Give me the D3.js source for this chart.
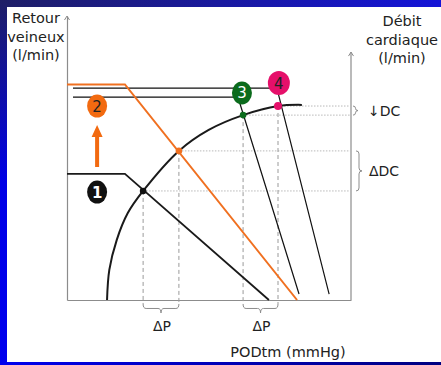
<!DOCTYPE html>
<html><head><meta charset="utf-8">
<script src="https://cdn.jsdelivr.net/npm/d3@7"></script>
<style>html,body{margin:0;padding:0;overflow:hidden;background:#fff}</style>
</head><body>
<svg id="chart" width="441" height="365"></svg>
<script>
// Guyton diagram: venous return curves against the cardiac function curve.
// Both axes use arbitrary units 0–100 (no ticks on the original diagram).
const cardiacCurve = [[14.1,0],[14.9,10.6],[17.5,21.1],[21.4,30.6],[26.8,38.4],[39.4,52.5],[49.9,59.9],[62.0,65.1],[74.3,68.3],[82.7,68.7]];
const venousReturn1 = [[0,44.4],[20.4,44.4],[71.1,0]];
const venousReturn2 = [[0,75.9],[20.4,75.9],[81.0,0]];
const venousReturn3 = [[2.1,71.4],[60.2,71.4],[81.7,2.1]];
const venousReturn4 = [[2.1,74.6],[73.9,74.6],[92.3,2.1]];
// equilibrium points (intersections with the cardiac function curve)
const equilibriumX = [26.8, 39.4, 62.0, 74.3];
const equilibriumY = [38.4, 52.5, 65.1, 68.3];
const equilibriumColors = ["#111111", "#f07020", "#0b6b1c", "#e5106a"];
// numbered badges
const badgeLabels = ["1", "2", "3", "4"];
const badgeX = [10.6, 10.6, 61.6, 74.6];
const badgeY = [38.0, 68.3, 72.9, 76.4];
const badgeFill = ["#111111", "#f26a10", "#0b6b1c", "#e5106a"];
const badgeText = ["#ffffff", "#222222", "#ffffff", "#222222"];
// upward shift arrow (from, to) in y units
const shiftArrow = {x: 10.6, from: 46.8, to: 61.6};
const yTitle = ["Retour", "veineux", "(l/min)"];
const yRightTitle = ["Débit", "cardiaque", "(l/min)"];
const xTitle = "PODtm (mmHg)";
const deltaP = "\u0394P";
const dcLabels = ["\u2193DC", "\u0394DC"];

const svg = d3.select("#chart");
const W = 441, H = 365;

// frame: blue gradient border around a white panel
const defs = svg.append("defs");
const gTop = defs.append("linearGradient").attr("id","gTop").attr("x1","0").attr("x2","1").attr("y1","0").attr("y2","0");
gTop.append("stop").attr("offset","0").attr("stop-color","#1e1e66");
gTop.append("stop").attr("offset","1").attr("stop-color","#1414d8");
const gLeft = defs.append("linearGradient").attr("id","gLeft").attr("x1","0").attr("x2","0").attr("y1","0").attr("y2","1");
gLeft.append("stop").attr("offset","0").attr("stop-color","#1e1e66");
gLeft.append("stop").attr("offset","0.5").attr("stop-color","#0000e6");
gLeft.append("stop").attr("offset","1").attr("stop-color","#0000ee");
const gBot = defs.append("linearGradient").attr("id","gBot").attr("x1","0").attr("x2","1").attr("y1","0").attr("y2","0");
gBot.append("stop").attr("offset","0").attr("stop-color","#0000ee");
gBot.append("stop").attr("offset","1").attr("stop-color","#000080");

svg.append("rect").attr("x",0).attr("y",0).attr("width",W).attr("height",H).attr("fill","#ffffff");
svg.append("rect").attr("x",0).attr("y",0).attr("width",W).attr("height",7).attr("fill","url(#gTop)");
svg.append("rect").attr("x",0).attr("y",0).attr("width",7).attr("height",H).attr("fill","url(#gLeft)");
svg.append("rect").attr("x",0).attr("y",362).attr("width",W).attr("height",3).attr("fill","url(#gBot)");

const x = d3.scaleLinear().domain([0,100]).range([67,351]);
const y = d3.scaleLinear().domain([0,100]).range([300,16]);

const font = "'DejaVu Sans', Verdana, sans-serif";
const axisColor = "#8c8c8c";

// axes
const xAxis = d3.axisBottom(x).tickValues([]).tickSizeOuter(0);
svg.append("g").attr("transform",`translate(0,${y(0)})`).call(xAxis)
  .select(".domain").attr("stroke",axisColor).attr("stroke-width",1.2);
const yAxis = d3.axisLeft(y).tickValues([]).tickSizeOuter(0);
svg.append("g").attr("transform",`translate(${x(0)},0)`).call(yAxis)
  .select(".domain").attr("stroke",axisColor).attr("stroke-width",1.2);
// right axis (cardiac output)
svg.append("line").attr("x1",x(100)).attr("x2",x(100)).attr("y1",y(0)).attr("y2",y(87.3))
  .attr("stroke",axisColor).attr("stroke-width",1.2);
function arrowHead(px, py){
  svg.append("path").attr("d",`M${px-2.5},${py+4}L${px},${py}L${px+2.5},${py+4}`)
    .attr("fill","none").attr("stroke",axisColor).attr("stroke-width",1);
}
arrowHead(x(0), y(100));
arrowHead(x(100), y(87.3));

// guide lines
const pts = equilibriumX.map((v,i)=>({x:v, y:equilibriumY[i], c:equilibriumColors[i]}));
svg.append("g").selectAll("line").data(pts).join("line")
  .attr("x1",d=>x(d.x)).attr("x2",x(100)).attr("y1",d=>y(d.y)).attr("y2",d=>y(d.y))
  .attr("stroke","#b8b8b8").attr("stroke-width",1).attr("stroke-dasharray","1.5,1.5");
svg.append("g").selectAll("line").data(pts).join("line")
  .attr("x1",d=>x(d.x)).attr("x2",d=>x(d.x)).attr("y1",d=>y(d.y)).attr("y2",y(-1.4))
  .attr("stroke","#9a9a9a").attr("stroke-width",1).attr("stroke-dasharray","4,3");

const line = d3.line().x(d=>x(d[0])).y(d=>y(d[1]));
svg.append("path").attr("d",line(venousReturn4)).attr("fill","none").attr("stroke","#111").attr("stroke-width",1.2);
svg.append("path").attr("d",line(venousReturn3)).attr("fill","none").attr("stroke","#111").attr("stroke-width",1.2);
svg.append("path").attr("d",line(venousReturn1)).attr("fill","none").attr("stroke","#1a1a1a").attr("stroke-width",1.8);
svg.append("path").attr("d",line(venousReturn2)).attr("fill","none").attr("stroke","#f07020").attr("stroke-width",2);
svg.append("path").attr("d",d3.line().x(d=>x(d[0])).y(d=>y(d[1])).curve(d3.curveCatmullRom.alpha(0.5))(cardiacCurve))
  .attr("fill","none").attr("stroke","#1a1a1a").attr("stroke-width",2);

// equilibrium dots
svg.append("g").selectAll("circle").data(pts).join("circle")
  .attr("cx",d=>x(d.x)).attr("cy",d=>y(d.y)).attr("r",(d,i)=>i===3?4:3.3).attr("fill",d=>d.c);

// braces
const braceColor = "#8c8c8c";
function braceV(x0, ya, yb, w){
  const xm = x0 + w*0.5, ym = (ya+yb)/2, r = Math.min(3,(yb-ya)/4);
  return `M${x0},${ya}Q${xm},${ya} ${xm},${ya+r}L${xm},${ym-r}Q${xm},${ym} ${x0+w},${ym}Q${xm},${ym} ${xm},${ym+r}L${xm},${yb-r}Q${xm},${yb} ${x0},${yb}`;
}
function braceH(xa, xb, y0, h){
  const ym = y0 + h*0.5, xm = (xa+xb)/2, r = 3;
  return `M${xa},${y0}Q${xa},${ym} ${xa+r},${ym}L${xm-r},${ym}Q${xm},${ym} ${xm},${y0+h}Q${xm},${ym} ${xm+r},${ym}L${xb-r},${ym}Q${xb},${ym} ${xb},${y0}`;
}
const braceG = svg.append("g").attr("fill","none").attr("stroke",braceColor).attr("stroke-width",1);
braceG.append("path").attr("d",braceV(x(100)+2, y(equilibriumY[3]), y(equilibriumY[2]), 5));
braceG.append("path").attr("d",braceV(x(100)+5, y(equilibriumY[1]), y(equilibriumY[0]), 6));
braceG.append("path").attr("d",braceH(x(equilibriumX[0]), x(equilibriumX[1]), y(-1.4), 9));
braceG.append("path").attr("d",braceH(x(equilibriumX[2]), x(equilibriumX[3]), y(-1.4), 9));

// ΔP labels
[[0,1],[2,3]].forEach(([a,b])=>{
  svg.append("text").attr("x",(x(equilibriumX[a])+x(equilibriumX[b]))/2+1).attr("y",331)
    .attr("text-anchor","middle").attr("font-family",font).attr("font-size",14).attr("fill","#222").text(deltaP);
});
// DC labels
svg.append("text").attr("x",368).attr("y",(y(equilibriumY[3])+y(equilibriumY[2]))/2+5)
  .attr("font-family",font).attr("font-size",14).attr("fill","#222").text(dcLabels[0]);
svg.append("text").attr("x",369).attr("y",(y(equilibriumY[1])+y(equilibriumY[0]))/2+5)
  .attr("font-family",font).attr("font-size",14).attr("fill","#222").text(dcLabels[1]);

// shift arrow
const ax = x(shiftArrow.x), ay0 = y(shiftArrow.from), ay1 = y(shiftArrow.to);
svg.append("path").attr("d",`M${ax-2},${ay0}L${ax-2},${ay1+12}L${ax-5.5},${ay1+12}L${ax},${ay1}L${ax+5.5},${ay1+12}L${ax+2},${ay1+12}L${ax+2},${ay0}Z`)
  .attr("fill","#f26a10");

// numbered badges
const badges = badgeLabels.map((l,i)=>({l, x:badgeX[i], y:badgeY[i], f:badgeFill[i], t:badgeText[i]}));
const bg = svg.append("g").selectAll("g").data(badges).join("g").attr("transform",d=>`translate(${x(d.x)},${y(d.y)})`);
bg.append("ellipse").attr("rx",(d,i)=>i===3?11:10).attr("ry",(d,i)=>i===3?12:11.5).attr("fill",d=>d.f);
bg.append("text").attr("y",5.5).attr("text-anchor","middle").attr("font-family",font).attr("font-size",15)
  .attr("font-weight",(d,i)=>i===0?"bold":"normal").attr("fill",d=>d.t).text(d=>d.l);

// axis titles
const tl = svg.append("text").attr("font-family",font).attr("font-size",14.5).attr("fill","#222").attr("text-anchor","middle");
yTitle.forEach((t,i)=>tl.append("tspan").attr("x",36).attr("y",23+i*18.5).text(t));
const tr = svg.append("text").attr("font-family",font).attr("font-size",14.5).attr("fill","#222").attr("text-anchor","middle");
yRightTitle.forEach((t,i)=>tr.append("tspan").attr("x",402).attr("y",26+i*18.5).text(t));
svg.append("text").attr("x",288).attr("y",357).attr("text-anchor","middle").attr("font-family",font)
  .attr("font-size",14.5).attr("fill","#222").text(xTitle);
</script>
</body></html>
